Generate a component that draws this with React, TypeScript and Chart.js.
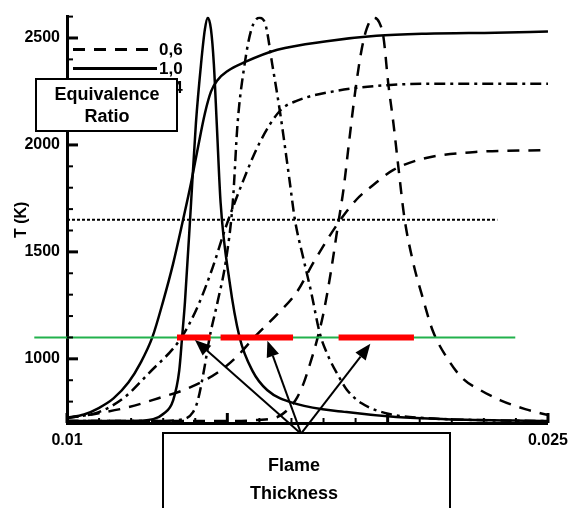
import React, { useEffect, useRef } from 'react';
import { Chart, registerables } from 'chart.js';

Chart.register(...registerables);

// ---- Temperature profiles (x in m, T in K) ----
const tempX06 = [0.0100, 0.01099, 0.01192, 0.01285, 0.01377, 0.01470, 0.01532, 0.01585, 0.01656, 0.01718, 0.01770, 0.01847, 0.01903, 0.01956, 0.02018, 0.02120, 0.02274, 0.0250];
const tempY06 = [723, 746, 774, 816, 862, 936, 1014, 1102, 1209, 1315, 1454, 1638, 1745, 1814, 1883, 1939, 1967, 1976];

const tempX10 = [0.0100, 0.01053, 0.01099, 0.01145, 0.01192, 0.01229, 0.01266, 0.01300, 0.01331, 0.01362, 0.01387, 0.01408, 0.01430, 0.01449, 0.01470, 0.01501, 0.01554, 0.01656, 0.01810, 0.01965, 0.02120, 0.02336, 0.0250];
const tempY10 = [725, 740, 770, 815, 890, 980, 1100, 1270, 1445, 1650, 1823, 1985, 2147, 2249, 2304, 2346, 2387, 2445, 2485, 2510, 2520, 2525, 2530];

const tempX14 = [0.0100, 0.01099, 0.01176, 0.01254, 0.01356, 0.01408, 0.01455, 0.01495, 0.01547, 0.01600, 0.01665, 0.01718, 0.01841, 0.01965, 0.02120, 0.0250];
const tempY14 = [723, 751, 816, 931, 1098, 1246, 1430, 1615, 1823, 2008, 2161, 2207, 2253, 2276, 2286, 2286];

// ---- Peaked profiles ----
const peakX06 = [0.0100, 0.01470, 0.01594, 0.01656, 0.01687, 0.01718, 0.01739, 0.01758, 0.01779, 0.01801, 0.01823, 0.01844, 0.01863, 0.01881, 0.01900, 0.01919, 0.01934, 0.01956, 0.01974, 0.01987, 0.02002, 0.02018, 0.02033, 0.02052, 0.02079, 0.02110, 0.02141, 0.02191, 0.02234, 0.02290, 0.02352, 0.02429, 0.0250];
const peakY06 = [709, 709, 714, 728, 760, 820, 890, 977, 1084, 1222, 1407, 1615, 1800, 2031, 2263, 2447, 2540, 2595, 2572, 2503, 2286, 2101, 1902, 1662, 1454, 1282, 1130, 991, 908, 853, 806, 765, 737];

const peakX10 = [0.0100, 0.01192, 0.01269, 0.01300, 0.01331, 0.01350, 0.01359, 0.01368, 0.01387, 0.01402, 0.01418, 0.01430, 0.01439, 0.01449, 0.01458, 0.01467, 0.01479, 0.01507, 0.01538, 0.01578, 0.01625, 0.01718, 0.01872, 0.02027, 0.02181, 0.0250];
const peakY10 = [709, 709, 718, 742, 806, 945, 1102, 1269, 1731, 2101, 2378, 2540, 2595, 2540, 2378, 2101, 1731, 1361, 1102, 945, 853, 788, 751, 728, 718, 709];

const peakX14 = [0.0100, 0.01285, 0.01362, 0.01393, 0.01408, 0.01427, 0.01445, 0.01470, 0.01495, 0.01517, 0.01532, 0.01554, 0.01575, 0.01600, 0.01619, 0.01640, 0.01665, 0.01693, 0.01711, 0.01736, 0.01761, 0.01789, 0.01810, 0.01851, 0.01872, 0.01919, 0.02005, 0.02120, 0.02274, 0.0250];
const peakY14 = [709, 709, 718, 751, 806, 945, 1102, 1269, 1454, 1731, 2101, 2378, 2540, 2595, 2563, 2378, 2147, 1846, 1648, 1477, 1315, 1116, 1028, 908, 857, 792, 742, 723, 714, 709];

// ---- Reference lines ----
const greenX = [0.00898, 0.02398];
const greenY = 1100;
const dottedX = [0.0100, 0.02342];
const dottedY = 1650;

// ---- Flame thickness segments ----
const redStartX = [0.01343, 0.01479, 0.01847];
const redEndX = [0.01448, 0.01705, 0.02082];
const redY = 1100;

// ---- Arrows ----
const arrowOriginX = 0.0173;
const arrowOriginY = 650;
const arrowTipX = [0.01399, 0.01625, 0.01946];
const arrowTipY = [1088, 1084, 1070];

// ---- Ticks ----
const xTickValues = [0.010, 0.011, 0.012, 0.013, 0.014, 0.015, 0.016, 0.017, 0.018, 0.019, 0.020, 0.021, 0.022, 0.023, 0.024, 0.025];
const xMajorTicks = [0.01, 0.015, 0.02, 0.025];
const xTickLabels = ['0.01', '0.015', '0.02', '0.025'];
const yTickValues = [700, 800, 900, 1000, 1100, 1200, 1300, 1400, 1500, 1600, 1700, 1800, 1900, 2000, 2100, 2200, 2300, 2400, 2500, 2600];
const yMajorTicks = [1000, 1500, 2000, 2500];
const yTickLabels = ['1000', '1500', '2000', '2500'];

// ---- Text ----
const legendLabels = ['0,6', '1,0', '1,4'];
const legendBoxText = ['Equivalence', 'Ratio'];
const flameBoxText = ['Flame', 'Thickness'];
const yTitle = 'T (K)';

const DASHED = [12, 9];
const SOLID: number[] = [];
const DASHDOT = [11, 5, 3, 5];
const legendDashes = [DASHED, SOLID, DASHDOT];
const FONT = '"Liberation Sans", Arial, sans-serif';

function findMajor(list: number[], v: number) {
  return list.findIndex((m) => Math.abs(m - v) < 1e-9);
}

const decorPlugin = {
  id: 'decor',
  afterDraw(chart: any) {
    const { ctx, chartArea: ca, scales } = chart;
    const xs = scales.x;
    const ys = scales.y;
    ctx.save();
    ctx.strokeStyle = '#000';
    ctx.fillStyle = '#000';
    ctx.setLineDash([]);
    // inward ticks
    yTickValues.forEach((v) => {
      const py = ys.getPixelForValue(v);
      const major = findMajor(yMajorTicks, v) >= 0;
      ctx.lineWidth = major ? 3 : 2;
      ctx.beginPath();
      ctx.moveTo(ca.left, py);
      ctx.lineTo(ca.left + (major ? 11 : 6), py);
      ctx.stroke();
    });
    xTickValues.forEach((v) => {
      const px = xs.getPixelForValue(v);
      const major = findMajor(xMajorTicks, v) >= 0;
      ctx.lineWidth = major ? 3 : 2;
      ctx.beginPath();
      ctx.moveTo(px, ca.bottom);
      ctx.lineTo(px, ca.bottom - (major ? 10 : 5));
      ctx.stroke();
    });

    // legend
    legendLabels.forEach((lab, i) => {
      const ly = ca.top + 33 + i * 19;
      ctx.setLineDash(legendDashes[i]);
      ctx.lineWidth = 3;
      ctx.beginPath();
      ctx.moveTo(ca.left + 6, ly);
      ctx.lineTo(ca.left + 90, ly);
      ctx.stroke();
      ctx.setLineDash([]);
      ctx.font = `bold 17px ${FONT}`;
      ctx.textAlign = 'left';
      ctx.textBaseline = 'middle';
      ctx.fillText(lab, ca.left + 92, ly + 1);
    });

    // arrows
    const ox = xs.getPixelForValue(arrowOriginX);
    const oy = ys.getPixelForValue(arrowOriginY);
    arrowTipX.forEach((tx, i) => {
      const px = xs.getPixelForValue(tx);
      const py = ys.getPixelForValue(arrowTipY[i]);
      const ang = Math.atan2(py - oy, px - ox);
      const L = 16;
      const W = 6.5;
      const bx = px - L * Math.cos(ang);
      const by = py - L * Math.sin(ang);
      ctx.lineWidth = 2;
      ctx.beginPath();
      ctx.moveTo(ox, oy);
      ctx.lineTo(bx, by);
      ctx.stroke();
      ctx.beginPath();
      ctx.moveTo(px, py);
      ctx.lineTo(bx + W * Math.sin(ang), by - W * Math.cos(ang));
      ctx.lineTo(bx - W * Math.sin(ang), by + W * Math.cos(ang));
      ctx.closePath();
      ctx.fill();
    });

    // text boxes
    const box = (x: number, y: number, w: number, h: number, lines: string[], cx: number, ly: number[]) => {
      ctx.fillStyle = '#fff';
      ctx.fillRect(x, y, w, h);
      ctx.lineWidth = 2;
      ctx.strokeStyle = '#000';
      ctx.strokeRect(x, y, w, h);
      ctx.fillStyle = '#000';
      ctx.font = `bold 18px ${FONT}`;
      ctx.textAlign = 'center';
      ctx.textBaseline = 'middle';
      lines.forEach((t, i) => ctx.fillText(t, cx, ly[i]));
    };
    box(36, 79, 141, 52, legendBoxText, 107, [95, 117]);
    box(163, 433, 287, 100, flameBoxText, 294, [466, 494]);
    ctx.restore();
  },
};

export default function App() {
  const ref = useRef<HTMLCanvasElement>(null);
  useEffect(() => {
    const canvas = ref.current;
    if (!canvas) return;
    const mk = (xs: number[], ys: number[]) => xs.map((x, i) => ({ x, y: ys[i] }));
    const curve = (label: string, data: any[], dash: number[]) => ({
      label,
      data,
      borderColor: '#000',
      borderWidth: 2.5,
      borderDash: dash,
      pointRadius: 0,
      fill: false,
      cubicInterpolationMode: 'monotone' as const,
    });
    const datasets: any[] = [
      ...redStartX.map((s, i) => ({
        label: 'thickness' + i,
        data: [{ x: s, y: redY }, { x: redEndX[i], y: redY }],
        borderColor: '#ff0000',
        borderWidth: 6,
        borderCapStyle: 'butt',
        pointRadius: 0,
      })),
      {
        label: 'green',
        data: mk(greenX, [greenY, greenY]),
        borderColor: '#22b14c',
        borderWidth: 2,
        pointRadius: 0,
        clip: false,
      },
      {
        label: 'dotted',
        data: mk(dottedX, [dottedY, dottedY]),
        borderColor: '#000',
        borderWidth: 2,
        borderDash: [3, 2],
        pointRadius: 0,
      },
      curve('T 0,6', mk(tempX06, tempY06), DASHED),
      curve('T 1,0', mk(tempX10, tempY10), SOLID),
      curve('T 1,4', mk(tempX14, tempY14), DASHDOT),
      curve('P 0,6', mk(peakX06, peakY06), DASHED),
      curve('P 1,0', mk(peakX10, peakY10), SOLID),
      curve('P 1,4', mk(peakX14, peakY14), DASHDOT),
    ];
    const tickFont = { family: FONT, size: 16, weight: 'bold' as const };
    const chart = new Chart(canvas, {
      type: 'line',
      data: { datasets },
      options: {
        responsive: false,
        animation: false,
        devicePixelRatio: 1,
        layout: { padding: { left: 0, right: 23, top: 12, bottom: 0 } },
        plugins: { legend: { display: false }, tooltip: { enabled: false } },
        scales: {
          x: {
            type: 'linear',
            min: 0.01,
            max: 0.025,
            afterBuildTicks: (s: any) => {
              s.ticks = xTickValues.map((value) => ({ value }));
            },
            afterFit: (s: any) => {
              s.height = 85;
            },
            grid: { display: true, drawOnChartArea: false, drawTicks: false },
            border: { display: true, color: '#000', width: 3 },
            ticks: {
              autoSkip: false,
              maxRotation: 0,
              padding: 8,
              color: '#000',
              font: tickFont,
              callback: (v: any) => {
                const k = findMajor(xMajorTicks, Number(v));
                return k >= 0 ? xTickLabels[k] : '';
              },
            },
          },
          y: {
            type: 'linear',
            min: 700,
            max: 2600,
            afterBuildTicks: (s: any) => {
              s.ticks = yTickValues.map((value) => ({ value }));
            },
            afterFit: (s: any) => {
              s.width = 67;
            },
            grid: { display: true, drawOnChartArea: false, drawTicks: false },
            border: { display: true, color: '#000', width: 3 },
            title: {
              display: true,
              text: yTitle,
              color: '#000',
              font: { family: FONT, size: 16, weight: 'bold' },
              padding: { top: 12, bottom: 0 },
            },
            ticks: {
              autoSkip: false,
              padding: 7,
              color: '#000',
              font: tickFont,
              callback: (v: any) => {
                const k = findMajor(yMajorTicks, Number(v));
                return k >= 0 ? yTickLabels[k] : '';
              },
            },
          },
        },
      },
      plugins: [decorPlugin],
    });
    return () => chart.destroy();
  }, []);
  return (
    <div style={{ position: 'absolute', left: 0, top: 0, width: 576, height: 508, background: '#fff' }}>
      <canvas ref={ref} width={576} height={508} style={{ display: 'block', width: 576, height: 508 }} />
    </div>
  );
}
